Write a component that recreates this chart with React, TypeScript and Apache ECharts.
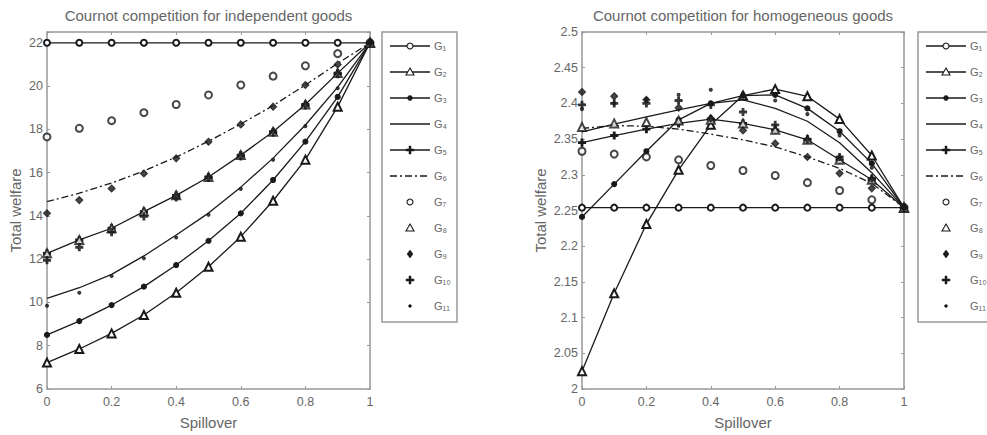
import React, { useEffect, useRef } from 'react';
import * as echarts from 'echarts';

const FONT = '"Liberation Sans", Arial, Helvetica, sans-serif';

// Spillover values (x axis)
const spillover = [0, 0.1, 0.2, 0.3, 0.4, 0.5, 0.6, 0.7, 0.8, 0.9, 1];
const seriesNames = ['G₁', 'G₂', 'G₃', 'G₄', 'G₅', 'G₆', 'G₇', 'G₈', 'G₉', 'G₁₀', 'G₁₁'];

// Left panel: independent goods
const indG1 = [22, 22, 22, 22, 22, 22, 22, 22, 22, 22, 22];
const indG2 = [7.22, 7.85, 8.57, 9.42, 10.45, 11.65, 13.04, 14.7, 16.6, 19.05, 22];
const indG3 = [8.5, 9.14, 9.88, 10.73, 11.73, 12.85, 14.12, 15.66, 17.43, 19.5, 22];
const indG4 = [10.19, 10.68, 11.3, 12.15, 13.12, 14.13, 15.33, 16.67, 18.2, 19.95, 22];
const indG5 = [12.27, 12.89, 13.43, 14.2, 14.95, 15.8, 16.81, 17.89, 19.15, 20.6, 22];
const indG6 = [14.66, 15.05, 15.52, 16.08, 16.72, 17.45, 18.25, 19.1, 20.05, 21.05, 22];
const indG7 = [17.65, 18.05, 18.4, 18.77, 19.15, 19.59, 20.05, 20.46, 20.94, 21.5, 22];
const indG8 = [12.27, 12.89, 13.43, 14.2, 14.95, 15.8, 16.81, 17.89, 19.15, 20.6, 22];
const indG9 = [14.12, 14.73, 15.27, 15.96, 16.66, 17.43, 18.23, 19.05, 20.05, 21.0, 22];
const indG10 = [11.95, 12.55, 13.25, 13.98, 14.85, 15.75, 16.75, 17.85, 19.1, 20.55, 22];
const indG11 = [9.85, 10.45, 11.22, 12.04, 13.0, 14.05, 15.25, 16.6, 18.15, 19.9, 22];

// Right panel: homogeneous goods
const homG1 = [2.254, 2.254, 2.254, 2.254, 2.254, 2.254, 2.254, 2.254, 2.254, 2.254, 2.254];
const homG2 = [2.025, 2.134, 2.231, 2.307, 2.37, 2.411, 2.42, 2.41, 2.378, 2.327, 2.254];
const homG3 = [2.241, 2.287, 2.333, 2.377, 2.4, 2.411, 2.412, 2.393, 2.361, 2.316, 2.254];
const homG4 = [2.36, 2.371, 2.381, 2.391, 2.4, 2.405, 2.393, 2.375, 2.345, 2.303, 2.254];
const homG5 = [2.345, 2.355, 2.364, 2.372, 2.378, 2.372, 2.363, 2.349, 2.321, 2.293, 2.254];
const homG6 = [2.365, 2.369, 2.368, 2.364, 2.357, 2.349, 2.339, 2.325, 2.309, 2.288, 2.254];
const homG7 = [2.333, 2.329, 2.325, 2.321, 2.313, 2.306, 2.299, 2.289, 2.278, 2.265, 2.254];
const homG8 = [2.367, 2.372, 2.374, 2.376, 2.377, 2.372, 2.363, 2.349, 2.321, 2.293, 2.254];
const homG9 = [2.416, 2.41, 2.405, 2.394, 2.379, 2.362, 2.344, 2.325, 2.302, 2.281, 2.254];
const homG10 = [2.398, 2.4, 2.4, 2.404, 2.398, 2.388, 2.37, 2.35, 2.325, 2.295, 2.254];
const homG11 = [2.392, 2.4, 2.406, 2.412, 2.419, 2.414, 2.404, 2.385, 2.355, 2.31, 2.254];

const independentValues = [indG1, indG2, indG3, indG4, indG5, indG6, indG7, indG8, indG9, indG10, indG11];
const homogeneousValues = [homG1, homG2, homG3, homG4, homG5, homG6, homG7, homG8, homG9, homG10, homG11];

const PLUS = 'path://M3,0H5V3H8V5H5V8H3V5H0V3H3Z';
const INK = '#1a1a1a';
const GRAY = '#999';
const TXT = '#666';
const DASHDOT = [7, 3, 2, 3];

const styles: any[] = [
  { kind: 'line', symbol: 'emptyCircle', size: 6, mk: 'ocircle' },
  { kind: 'line', symbol: 'emptyTriangle', size: 8, mk: 'otri' },
  { kind: 'line', symbol: 'circle', size: 5, mk: 'fcircle' },
  { kind: 'line', symbol: 'none', size: 0, mk: 'none' },
  { kind: 'line', symbol: PLUS, size: 7, mk: 'plus' },
  { kind: 'line', symbol: 'none', size: 0, dash: DASHDOT, mk: 'none' },
  { kind: 'scatter', symbol: 'emptyCircle', size: 7, mk: 'ocircle' },
  { kind: 'scatter', symbol: 'emptyTriangle', size: 8, mk: 'otri' },
  { kind: 'scatter', symbol: 'diamond', size: 7, mk: 'diamond' },
  { kind: 'scatter', symbol: PLUS, size: 7, mk: 'plus' },
  { kind: 'scatter', symbol: 'circle', size: 3, mk: 'dot' },
];

function makeSeries(values: number[][], xi: number, yi: number) {
  return values.map((vals, k) => {
    const st = styles[k];
    const data = spillover.map((x, i) => [x, vals[i]]);
    const itemStyle = { color: INK, borderColor: INK, borderWidth: 1.1 };
    if (st.kind === 'scatter') {
      return {
        type: 'scatter', name: seriesNames[k], xAxisIndex: xi, yAxisIndex: yi, data,
        symbol: st.symbol, symbolSize: st.size, itemStyle, clip: false, z: 3,
      };
    }
    return {
      type: 'line', name: seriesNames[k], xAxisIndex: xi, yAxisIndex: yi, data,
      symbol: st.symbol, symbolSize: st.size, showSymbol: st.symbol !== 'none',
      lineStyle: { color: INK, width: 1.3, type: st.dash || 'solid' },
      itemStyle, clip: false, z: 2,
    };
  });
}

const axisLine = { show: true, onZero: false, lineStyle: { color: GRAY, width: 1.5 } };
const axisTick = { show: true, inside: true, length: 3, lineStyle: { color: GRAY } };
const labelStyle = { color: TXT, fontSize: 12.5, fontFamily: FONT };
const nameStyle = { color: TXT, fontSize: 15, fontFamily: FONT };

function xAxes(grid: number, title: string) {
  return [
    {
      gridIndex: grid, type: 'value', min: 0, max: 1, interval: 0.2, position: 'bottom',
      name: 'Spillover', nameLocation: 'middle', nameGap: 26, nameTextStyle: nameStyle,
      axisLine, axisTick, splitLine: { show: false }, axisLabel: { ...labelStyle, margin: 6 },
    },
    {
      gridIndex: grid, type: 'value', min: 0, max: 1, interval: 0.2, position: 'top',
      name: title, nameLocation: 'middle', nameGap: 9, nameTextStyle: nameStyle,
      axisLine, axisTick, splitLine: { show: false }, axisLabel: { show: false },
    },
  ];
}

function yAxes(grid: number, min: number, max: number, interval: number, dec: number, gap: number) {
  const fmt = (v: number) => {
    const k = Math.round((v - min) / interval);
    if (Math.abs(min + k * interval - v) > 1e-6) return '';
    return String(+v.toFixed(dec));
  };
  return [
    {
      gridIndex: grid, type: 'value', min, max, interval, position: 'left',
      name: 'Total welfare', nameLocation: 'middle', nameGap: gap, nameTextStyle: nameStyle,
      axisLine, axisTick, splitLine: { show: false }, axisLabel: { ...labelStyle, margin: 4, formatter: fmt },
    },
    {
      gridIndex: grid, type: 'value', min, max, interval, position: 'right',
      axisLine, axisTick, splitLine: { show: false }, axisLabel: { show: false },
    },
  ];
}

function markerEl(mk: string, cx: number, cy: number): any | null {
  const open = { fill: '#fff', stroke: INK, lineWidth: 1.1 };
  const solid = { fill: INK, stroke: INK, lineWidth: 0.5 };
  switch (mk) {
    case 'ocircle':
      return { type: 'circle', shape: { cx, cy, r: 3 }, style: open };
    case 'otri':
      return { type: 'polygon', shape: { points: [[cx, cy - 4], [cx + 4, cy + 3], [cx - 4, cy + 3]] }, style: open };
    case 'fcircle':
      return { type: 'circle', shape: { cx, cy, r: 2.5 }, style: solid };
    case 'diamond':
      return { type: 'polygon', shape: { points: [[cx, cy - 4], [cx + 3, cy], [cx, cy + 4], [cx - 3, cy]] }, style: solid };
    case 'plus':
      return {
        type: 'polygon',
        shape: {
          points: [
            [cx - 1, cy - 4], [cx + 1, cy - 4], [cx + 1, cy - 1], [cx + 4, cy - 1], [cx + 4, cy + 1], [cx + 1, cy + 1],
            [cx + 1, cy + 4], [cx - 1, cy + 4], [cx - 1, cy + 1], [cx - 4, cy + 1], [cx - 4, cy - 1], [cx - 1, cy - 1],
          ],
        },
        style: solid,
      };
    case 'dot':
      return { type: 'circle', shape: { cx, cy, r: 1.5 }, style: solid };
    default:
      return null;
  }
}

function legendGraphic(x0: number) {
  const children: any[] = [
    { type: 'rect', shape: { x: 0, y: 0, width: 75, height: 290 }, style: { fill: '#fff', stroke: GRAY, lineWidth: 1.5 } },
  ];
  seriesNames.forEach((name, i) => {
    const st = styles[i];
    const cy = 14 + 26 * i;
    if (st.kind === 'line') {
      children.push({
        type: 'line', shape: { x1: 8, y1: cy, x2: 48, y2: cy },
        style: { stroke: INK, lineWidth: 1.3, lineDash: st.dash || null },
      });
    }
    const m = markerEl(st.mk, 28, cy);
    if (m) children.push(m);
    children.push({
      type: 'text', x: 52, y: cy,
      style: {
        text: name, fill: TXT, font: `11px ${FONT}`,
        verticalAlign: 'middle', textVerticalAlign: 'middle',
      },
    });
  });
  return { type: 'group', x: x0, y: 32, children };
}

export default function App() {
  const ref = useRef<HTMLDivElement>(null);
  useEffect(() => {
    document.body.style.margin = '0';
    const chart = echarts.init(ref.current!, null, { renderer: 'svg' });
    chart.setOption({
      animation: false,
      backgroundColor: '#fff',
      grid: [
        { left: 47, right: 987 - 370, top: 32, bottom: 435 - 389 },
        { left: 582, right: 987 - 904, top: 32, bottom: 435 - 389 },
      ],
      xAxis: [
        ...xAxes(0, 'Cournot competition for independent goods'),
        ...xAxes(1, 'Cournot competition for homogeneous goods'),
      ],
      yAxis: [
        ...yAxes(0, 6, 22.5, 2, 0, 24),
        ...yAxes(1, 2, 2.5, 0.05, 2, 34),
      ],
      graphic: [legendGraphic(382), legendGraphic(918)],
      series: [
        ...makeSeries(independentValues, 0, 0),
        ...makeSeries(homogeneousValues, 2, 2),
      ],
    });
    return () => chart.dispose();
  }, []);
  return <div ref={ref} style={{ width: 987, height: 435 }} />;
}
